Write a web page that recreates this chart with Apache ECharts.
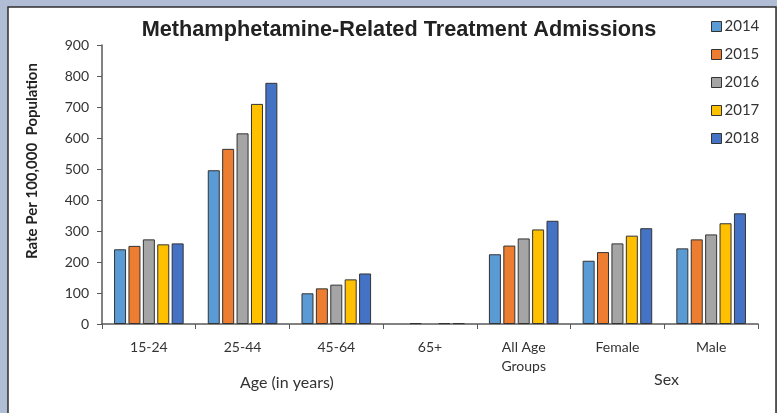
<!DOCTYPE html>
<html>
<head>
<meta charset="utf-8">
<script src="https://cdn.jsdelivr.net/npm/echarts@6/dist/echarts.min.js"></script>
<style>
html,body{margin:0;padding:0;background:#b1bdd5;}
#c{width:777px;height:413px;}
</style>
</head>
<body>
<div id="c"></div>
<script>
const categories = ['15-24', '25-44', '45-64', '65+', 'All Age\nGroups', 'Female', 'Male'];
const years = ['2014', '2015', '2016', '2017', '2018'];
const v2014 = [241, 496, 99, null, 225, 204, 244];
const v2015 = [252, 565, 115, 3, 253, 232, 273];
const v2016 = [273, 615, 127, null, 276, 260, 289];
const v2017 = [257, 710, 144, 3, 305, 285, 325];
const v2018 = [260, 778, 163, 3, 333, 309, 357];
const yTicks = [0, 100, 200, 300, 400, 500, 600, 700, 800, 900];
const colors = ['#5b9bd5', '#ed7d31', '#a5a5a5', '#ffc000', '#4472c4'];
const seriesValues = [v2014, v2015, v2016, v2017, v2018];

const chart = echarts.init(document.getElementById('c'), null, {renderer: 'canvas'});
const labelFont = 'Lato, "Open Sans", sans-serif';

chart.setOption({
  backgroundColor: 'transparent',
  animation: false,
  graphic: [
    {type: 'rect', z: -10, shape: {x: 8, y: 7, width: 768, height: 420},
     style: {fill: '#ffffff', stroke: '#2e2e2e', lineWidth: 1.5}},
    {type: 'text', left: 240, top: 375,
     style: {text: 'Age (in years)', font: '16px ' + labelFont, fill: '#333'}},
    {type: 'text', left: 654, top: 372,
     style: {text: 'Sex', font: '16px ' + labelFont, fill: '#333'}},
    {type: 'text', x: 32, y: 161, rotation: Math.PI / 2,
     style: {text: 'Rate Per 100,000  Population', font: 'bold 15px ' + labelFont,
             fill: '#222', align: 'center', verticalAlign: 'middle'}}
  ],
  title: {
    text: 'Methamphetamine-Related Treatment Admissions',
    left: 394, top: 14, textAlign: 'center',
    textStyle: {fontFamily: '"Liberation Sans Narrow", "Liberation Sans", sans-serif',
                fontSize: 21.7, fontWeight: 'bold', color: '#222'}
  },
  legend: {
    orient: 'vertical', left: 706, top: 14,
    itemWidth: 10, itemHeight: 10, itemGap: 13,
    data: years,
    icon: 'rect',
    itemStyle: {borderColor: '#333', borderWidth: 1},
    textStyle: {fontFamily: labelFont, fontSize: 15, color: '#333', padding: [0, 0, 0, -2]}
  },
  grid: {left: 102, right: 19, top: 45, bottom: 89, containLabel: false},
  xAxis: {
    type: 'category',
    data: categories,
    axisLine: {lineStyle: {color: '#595959', width: 1.5}},
    axisTick: {show: true, length: 5, lineStyle: {color: '#595959'}},
    axisLabel: {fontFamily: labelFont, fontSize: 14, color: '#333', margin: 14, lineHeight: 19}
  },
  yAxis: {
    type: 'value', min: 0, max: 900, interval: 100,
    splitLine: {show: false},
    axisLine: {show: true, lineStyle: {color: '#595959', width: 1.5}},
    axisTick: {show: true, length: 5, lineStyle: {color: '#595959'}},
    axisLabel: {fontFamily: labelFont, fontSize: 14, color: '#333', margin: 13,
      formatter: v => yTicks.includes(v) ? String(v) : ''}
  },
  series: years.map((y, i) => ({
    name: y, type: 'bar', data: seriesValues[i],
    barWidth: 12, barGap: '20%',
    itemStyle: {color: colors[i], borderColor: '#333', borderWidth: 1}
  }))
});
</script>
</body>
</html>
